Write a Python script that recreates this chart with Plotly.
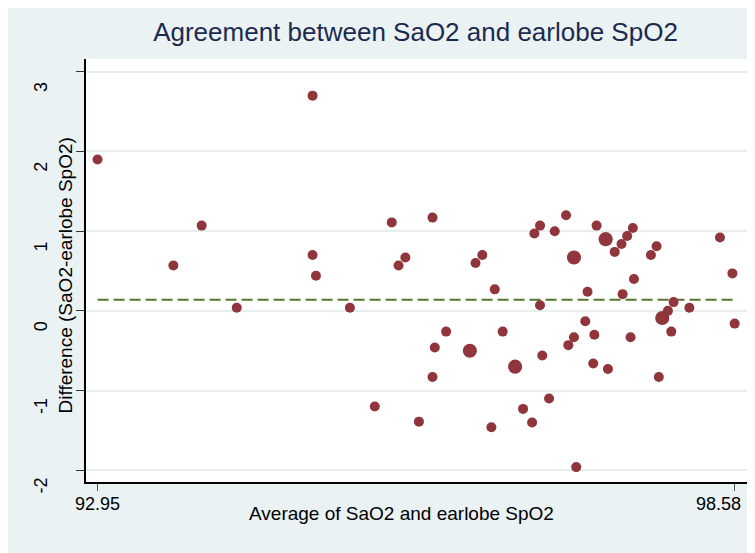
import plotly.graph_objects as go

# Average of SaO2 and earlobe SpO2
avg = [92.95, 94.85, 93.62, 93.87, 94.18, 94.85, 94.88, 95.18, 95.40, 95.55,
       95.61, 95.67, 95.79, 95.91, 95.91, 95.93, 96.03, 96.24, 96.29, 96.35,
       96.43, 96.46, 96.53, 96.64, 96.71, 96.79, 96.81, 96.86, 96.86, 96.88,
       96.94, 96.99, 97.09, 97.11, 97.16, 97.16, 97.18, 97.26, 97.28, 97.33,
       97.34, 97.36, 97.44, 97.46, 97.52, 97.58, 97.59, 97.63, 97.66, 97.68,
       97.69, 97.84, 97.89, 97.91, 97.94, 97.99, 98.02, 98.04, 98.18, 98.45,
       98.56, 98.58]
# Difference SaO2 - earlobe SpO2
diff = [1.90, 2.70, 0.57, 1.07, 0.04, 0.70, 0.44, 0.04, -1.20, 1.11,
        0.57, 0.67, -1.39, 1.17, -0.83, -0.46, -0.26, -0.50, 0.60, 0.70,
        -1.46, 0.27, -0.26, -0.70, -1.23, -1.40, 0.97, 1.07, 0.07, -0.56,
        -1.10, 1.00, 1.20, -0.43, 0.67, -0.33, -1.96, -0.13, 0.24, -0.66,
        -0.30, 1.07, 0.90, -0.73, 0.74, 0.84, 0.21, 0.94, -0.33, 1.04,
        0.40, 0.70, 0.81, -0.83, -0.09, 0.00, -0.26, 0.11, 0.04, 0.92,
        0.47, -0.16]
# number of observations at each point (marker weight)
count = [1, 1, 1, 1, 1, 1, 1, 1, 1, 1,
         1, 1, 1, 1, 1, 1, 1, 2, 1, 1,
         1, 1, 1, 2, 1, 1, 1, 1, 1, 1,
         1, 1, 1, 1, 2, 1, 1, 1, 1, 1,
         1, 1, 2, 1, 1, 1, 1, 1, 1, 1,
         1, 1, 1, 1, 2, 1, 1, 1, 1, 1,
         1, 1]
mean_diff = 0.14

xtick_vals = [92.95, 98.58]
xtick_text = ["92.95", "98.58"]
ytick_vals = [-2, -1, 0, 1, 2, 3]
ytick_text = ["-2", "-1", "0", "1", "2", "3"]

title_text = "Agreement between SaO2 and earlobe SpO2"
xtitle = "Average of SaO2 and earlobe SpO2"
ytitle = "Difference (SaO2-earlobe SpO2)"

FONT = "Liberation Sans, Arial, Helvetica, sans-serif"
BG = "#EAF2F3"
MAROON = "#90353B"
GREEN = "#55752F"

# page offset (body margin) and plot area in screen pixels
OFF = 8
W, H = 755, 553
SL, SR, ST, SB = 86, 747, 59, 482          # plot area edges on screen
L, T = SL - OFF, ST - OFF
R = W - (SR - OFF)
B = H - (SB - OFF)
pw = SR - SL
ph = SB - ST


def px2x(px):
    return (px - SL) / pw


def py2y(py):
    return (SB - py) / ph


fig = go.Figure()

fig.add_trace(go.Scatter(
    x=[min(avg), max(avg)], y=[mean_diff, mean_diff],
    mode="lines", line=dict(color=GREEN, width=2, dash="11px,5px"),
    hoverinfo="skip"))

fig.add_trace(go.Scatter(
    x=avg, y=diff, mode="markers",
    marker=dict(color=MAROON, size=[10 * c ** 0.5 for c in count],
                line=dict(width=0), opacity=1),
    hoverinfo="skip"))

annotations = []
for v, t, sh in zip(xtick_vals, xtick_text, [0, -16]):
    annotations.append(dict(
        x=v, xref="x", y=py2y(504), yref="paper", text=t, showarrow=False,
        xanchor="center", yanchor="middle", xshift=sh,
        font=dict(family=FONT, size=18, color="black")))
annotations.append(dict(
    x=px2x(401), y=py2y(513), xref="paper", yref="paper", text=xtitle,
    showarrow=False, xanchor="center", yanchor="middle",
    font=dict(family=FONT, size=19, color="black")))
annotations.append(dict(
    x=px2x(65), y=py2y(275.5), xref="paper", yref="paper", text=ytitle,
    showarrow=False, xanchor="center", yanchor="middle", textangle=-90,
    font=dict(family=FONT, size=19, color="black")))

fig.update_layout(
    width=W, height=H,
    margin=dict(l=L, r=R, t=T, b=B, pad=0),
    paper_bgcolor=BG, plot_bgcolor="white",
    showlegend=False,
    title=dict(text=title_text, x=px2x(415.5), xref="paper", xanchor="center",
               y=1 - (32 - OFF) / H, yref="container", yanchor="middle",
               font=dict(family=FONT, size=26, color="#1C2A50")),
    xaxis=dict(range=[92.848, 98.689], tickvals=xtick_vals,
               showticklabels=False, ticks="outside", ticklen=7,
               tickcolor="#555555", tickwidth=1,
               showline=True, linecolor="black", linewidth=1.5,
               showgrid=False, zeroline=False, fixedrange=True),
    yaxis=dict(range=[-2.147, 3.160], tickvals=ytick_vals, ticktext=ytick_text,
               ticks="outside", ticklen=8, tickcolor="#333333", tickwidth=1,
               tickangle=-90, tickfont=dict(family=FONT, size=18, color="black"),
               ticklabelstandoff=22, ticklabelshift=18,
               showline=True, linecolor="black", linewidth=1.5,
               showgrid=True, gridcolor="#E6EEF0", gridwidth=1.5,
               zeroline=False, fixedrange=True),
    annotations=annotations,
)

fig.write_html("out.html")
